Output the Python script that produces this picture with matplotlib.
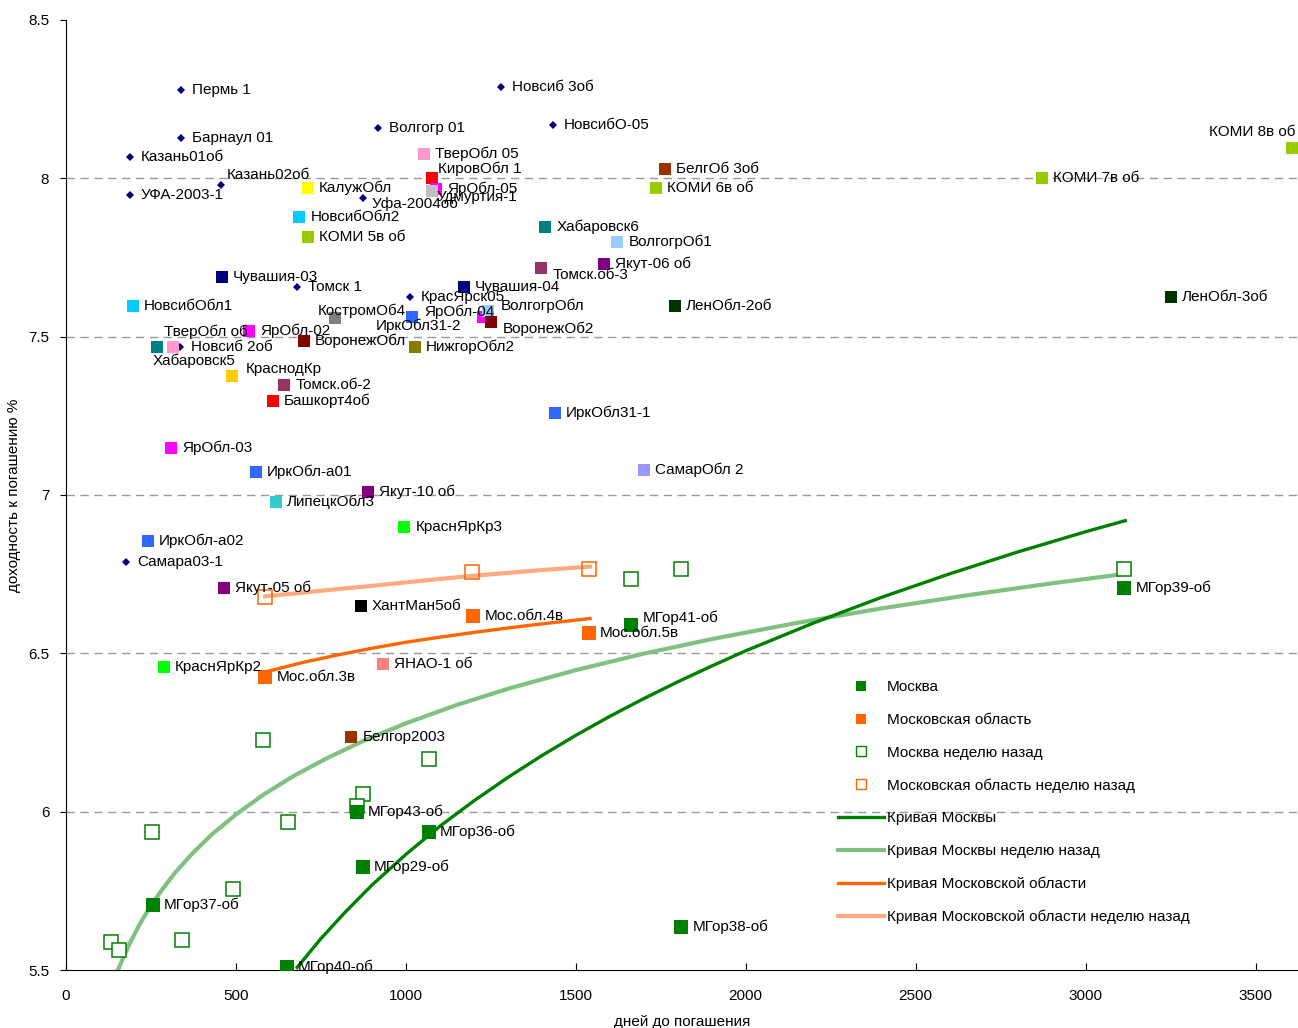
import matplotlib
matplotlib.use("Agg")
import matplotlib.pyplot as plt
from matplotlib.lines import Line2D

plt.rcParams['font.family'] = ['Liberation Sans', 'DejaVu Sans']
plt.rcParams['font.size'] = 11

# --- data (days to maturity, yield %) ---
# other issuers shown as small diamonds
dia_names = ['Пермь 1', 'Барнаул 01', 'Казань01об', 'УФА-2003-1', 'Казань02об', 'Волгогр 01',
             'Новсиб 3об', 'НовсибО-05', 'Уфа-2004об', 'Томск 1', 'КрасЯрск05', 'Новсиб 2об',
             'Самара03-1']
dia_days = [338, 338, 188, 188, 456, 918, 1280, 1433, 874, 680, 1012, 335, 177]
dia_ytm = [8.279, 8.127, 8.067, 7.947, 7.979, 8.159, 8.288, 8.168, 7.938, 7.657, 7.625, 7.467, 6.788]

# other issuers shown as coloured squares
sq_names = ['ТверОбл 05', 'КировОбл 1', 'ЯрОбл-05', 'Удмуртия-1', 'КалужОбл', 'НовсибОбл2',
            'КОМИ 5в об', 'Чувашия-03', 'НовсибОбл1', 'КостромОб4', 'ЯрОбл-04', 'ИркОбл31-2',
            'Чувашия-04', 'ВолгогрОбл', 'ВоронежОб2', 'ТверОбл об', 'Хабаровск5', 'ЯрОбл-02',
            'ВоронежОбл', 'НижгорОбл2', 'КраснодКр', 'Томск.об-2', 'Башкорт4об', 'ЯрОбл-03',
            'ИркОбл-а01', 'Якут-10 об', 'ЛипецкОбл3', 'КраснЯрКр3', 'ИркОбл-а02', 'Якут-05 об',
            'ХантМан5об', 'КраснЯрКр2', 'ЯНАО-1 об', 'Белгор2003', 'Хабаровск6', 'ВолгогрОб1',
            'Томск.об-3', 'Якут-06 об', 'БелгОб 3об', 'КОМИ 6в об', 'ЛенОбл-2об', 'ИркОбл31-1',
            'СамарОбл 2', 'КОМИ 7в об', 'КОМИ 8в об', 'ЛенОбл-3об']
sq_days = [1054, 1077, 1089, 1077, 712, 686, 712, 459, 197, 792, 1227, 1018,
           1171, 1242, 1251, 315, 268, 539, 700, 1027, 489, 642, 609, 309,
           559, 889, 618, 995, 241, 465, 868, 288, 933, 839, 1410, 1622,
           1398, 1583, 1763, 1736, 1792, 1439, 1701, 2872, 3608, 3252]
sq_ytm = [8.077, 8.000, 7.966, 7.960, 7.969, 7.878, 7.815, 7.688, 7.597, 7.559, 7.562, 7.562,
          7.657, 7.581, 7.546, 7.467, 7.467, 7.518, 7.486, 7.467, 7.376, 7.347, 7.297, 7.148,
          7.073, 7.009, 6.978, 6.899, 6.855, 6.706, 6.650, 6.457, 6.466, 6.236, 7.846, 7.799,
          7.717, 7.729, 8.029, 7.969, 7.597, 7.259, 7.079, 8.000, 8.096, 7.625]
sq_colors = ['#FF99CC', '#FF0000', '#FF00FF', '#C0C0C0', '#FFFF00', '#00CCFF',
             '#99CC00', '#000080', '#00CCFF', '#808080', '#FF00FF', '#3366FF',
             '#000080', '#99CCFF', '#800000', '#FF99CC', '#008080', '#FF00FF',
             '#800000', '#808000', '#FFCC00', '#993366', '#FF0000', '#FF00FF',
             '#3366FF', '#800080', '#33CCCC', '#00FF00', '#3366FF', '#800080',
             '#000000', '#00FF00', '#FF8080', '#993300', '#008080', '#99CCFF',
             '#993366', '#800080', '#993300', '#99CC00', '#003300', '#3366FF',
             '#9999FF', '#99CC00', '#99CC00', '#003300']

# Moscow city bonds
msk_names = ['МГор40-об', 'МГор37-об', 'МГор43-об', 'МГор36-об', 'МГор29-об',
             'МГор41-об', 'МГор39-об', 'МГор38-об']
msk_days = [650, 256, 856, 1068, 874, 1663, 3114, 1810]
msk_ytm = [5.51, 5.705, 6.00, 5.936, 5.825, 6.589, 6.706, 5.636]
msk_days_prev = [580, 253, 132, 156, 341, 491, 653, 874, 856, 1068, 1663, 1810, 3114]
msk_ytm_prev = [6.226, 5.936, 5.589, 5.563, 5.595, 5.756, 5.967, 6.056, 6.018, 6.166, 6.735, 6.766, 6.766]

# Moscow region bonds
mo_names = ['Мос.обл.3в', 'Мос.обл.4в', 'Мос.обл.5в']
mo_days = [586, 1198, 1539]
mo_ytm = [6.425, 6.618, 6.564]
mo_days_prev = [586, 1195, 1539]
mo_ytm_prev = [6.678, 6.757, 6.766]

# yield curves
msk_curve_days = [680, 750, 820, 900, 1000, 1100, 1200, 1300, 1400, 1500, 1600, 1700, 1800,
                  1900, 2000, 2200, 2400, 2600, 2800, 3000, 3117]
msk_curve_ytm = [5.508, 5.599, 5.681, 5.768, 5.865, 5.954, 6.034, 6.108, 6.177, 6.241, 6.301,
                 6.357, 6.410, 6.460, 6.508, 6.596, 6.677, 6.751, 6.820, 6.884, 6.919]
msk_prev_curve_days = [153, 170, 190, 215, 245, 280, 320, 370, 430, 500, 580, 670, 770, 880,
                       1000, 1150, 1300, 1500, 1700, 1900, 2150, 2400, 2650, 2900, 3117]
msk_prev_curve_ytm = [5.500, 5.543, 5.589, 5.641, 5.695, 5.750, 5.806, 5.866, 5.929, 5.991,
                      6.053, 6.113, 6.170, 6.226, 6.279, 6.337, 6.388, 6.447, 6.499, 6.545,
                      6.596, 6.642, 6.683, 6.721, 6.751]
mo_curve_days = [586, 700, 800, 900, 1000, 1100, 1200, 1300, 1400, 1542]
mo_curve_ytm = [6.441, 6.472, 6.495, 6.516, 6.535, 6.551, 6.566, 6.580, 6.593, 6.610]
mo_prev_curve_days = [586, 700, 800, 900, 1000, 1100, 1200, 1300, 1400, 1542]
mo_prev_curve_ytm = [6.680, 6.692, 6.703, 6.713, 6.724, 6.735, 6.745, 6.754, 6.763, 6.774]

# label placement tweaks (offset in points, alignment)
label_pos = {
    'Казань02об': (4, 7, 'left'), 'Уфа-2004об': (6, -4, 'left'), 'КировОбл 1': (4, 7, 'left'),
    'Удмуртия-1': (3, -4, 'left'), 'ВолгогрОбл': (9, 4, 'left'), 'ЯрОбл-04': (-42, 4, 'left'),
    'ИркОбл31-2': (5, -6, 'center'), 'ВоронежОб2': (8.5, -5, 'left'),
    'КостромОб4': (19, 5, 'center'), 'ТверОбл об': (-6.5, 11, 'left'),
    'Хабаровск5': (-3, -9.5, 'left'), 'КраснодКр': (10, 5, 'left'), 'Томск.об-3': (8, -5, 'left'),
    'МГор41-об': (8, 5, 'left'), 'КОМИ 8в об': (2, 11.5, 'right'),
}

fig = plt.figure(figsize=(12.98, 10.28), dpi=100)
ax = fig.add_axes([66 / 1298, 58 / 1028, 1232 / 1298, 950 / 1028])


def put_labels(names, xs, ys):
    for n, x, y in zip(names, xs, ys):
        dx, dy, ha = label_pos.get(n, (8, 0, 'left'))
        ax.annotate(n, (x, y), xytext=(dx, dy), textcoords='offset points',
                    ha=ha, va='center', fontsize=11, zorder=6)


# curves
ax.plot(msk_prev_curve_days, msk_prev_curve_ytm, color='#80C080', lw=3, zorder=3)
ax.plot(msk_curve_days, msk_curve_ytm, color='#008000', lw=2.4, zorder=3)
ax.plot(mo_curve_days, mo_curve_ytm, color='#FF6600', lw=2.4, zorder=3)
ax.plot(mo_prev_curve_days, mo_prev_curve_ytm, color='#FFAA80', lw=3, zorder=3)

# others
ax.plot(dia_days, dia_ytm, 'D', color='#000080', ms=4, mew=0, zorder=4)
for x, y, c in zip(sq_days, sq_ytm, sq_colors):
    ax.plot(x, y, 's', color=c, ms=8.5, mew=0, zorder=4)

# Moscow / Moscow region
ax.plot(msk_days_prev, msk_ytm_prev, 's', mfc='white', mec='#008000', ms=10, mew=1.1, zorder=4)
ax.plot(mo_days_prev, mo_ytm_prev, 's', mfc='none', mec='#FF6600', ms=10, mew=1.1, zorder=4)
ax.plot(msk_days, msk_ytm, 's', color='#008000', ms=10.5, mew=0, zorder=5)
ax.plot(mo_days, mo_ytm, 's', color='#FF6600', ms=10.5, mew=0, zorder=5)

put_labels(dia_names, dia_days, dia_ytm)
put_labels(sq_names, sq_days, sq_ytm)
put_labels(msk_names, msk_days, msk_ytm)
put_labels(mo_names, mo_days, mo_ytm)

ax.set_xlim(0, 3625)
ax.set_ylim(5.5, 8.5)
ax.set_xticks(range(0, 3501, 500))
yt = [5.5, 6, 6.5, 7, 7.5, 8, 8.5]
ax.set_yticks(yt)
ax.set_yticklabels(['5.5', '6', '6.5', '7', '7.5', '8', '8.5'])
ax.tick_params(axis='x', direction='in', length=5, pad=14, labelsize=11)
ax.tick_params(axis='y', direction='out', length=4, pad=8, labelsize=11)
ax.spines['top'].set_visible(False)
ax.spines['right'].set_visible(False)
ax.yaxis.grid(True, linestyle=(0, (6, 4)), color='#999999', lw=1)
gl = ax.get_ygridlines()
gl[0].set_visible(False)
gl[-1].set_visible(False)
ax.set_axisbelow(True)
ax.set_xlabel('дней до погашения', fontsize=11, labelpad=8.5)
ax.set_ylabel('доходность к погашению %', fontsize=11, va='center')
ax.yaxis.set_label_coords(-(66 - 14) / 1232, 0.5)

handles = [
    Line2D([], [], ls='none', marker='s', color='#008000', ms=6.5, mew=0),
    Line2D([], [], ls='none', marker='s', color='#FF6600', ms=6.5, mew=0),
    Line2D([], [], ls='none', marker='s', mfc='white', mec='#008000', ms=6.5, mew=1),
    Line2D([], [], ls='none', marker='s', mfc='white', mec='#FF6600', ms=6.5, mew=1),
    Line2D([], [], color='#008000', lw=2.4),
    Line2D([], [], color='#80C080', lw=3),
    Line2D([], [], color='#FF6600', lw=2.4),
    Line2D([], [], color='#FFAA80', lw=3),
]
labels = ['Москва', 'Московская область', 'Москва неделю назад', 'Московская область неделю назад',
          'Кривая Москвы', 'Кривая Москвы неделю назад', 'Кривая Московской области',
          'Кривая Московской области неделю назад']
ax.legend(handles, labels, loc='upper left', bbox_to_anchor=(0.6266, 0.305), frameon=False,
          borderpad=0, borderaxespad=0, handlelength=3.0, handletextpad=0.2,
          labelspacing=1.22, fontsize=11)

fig.savefig('out.png', dpi=100)
